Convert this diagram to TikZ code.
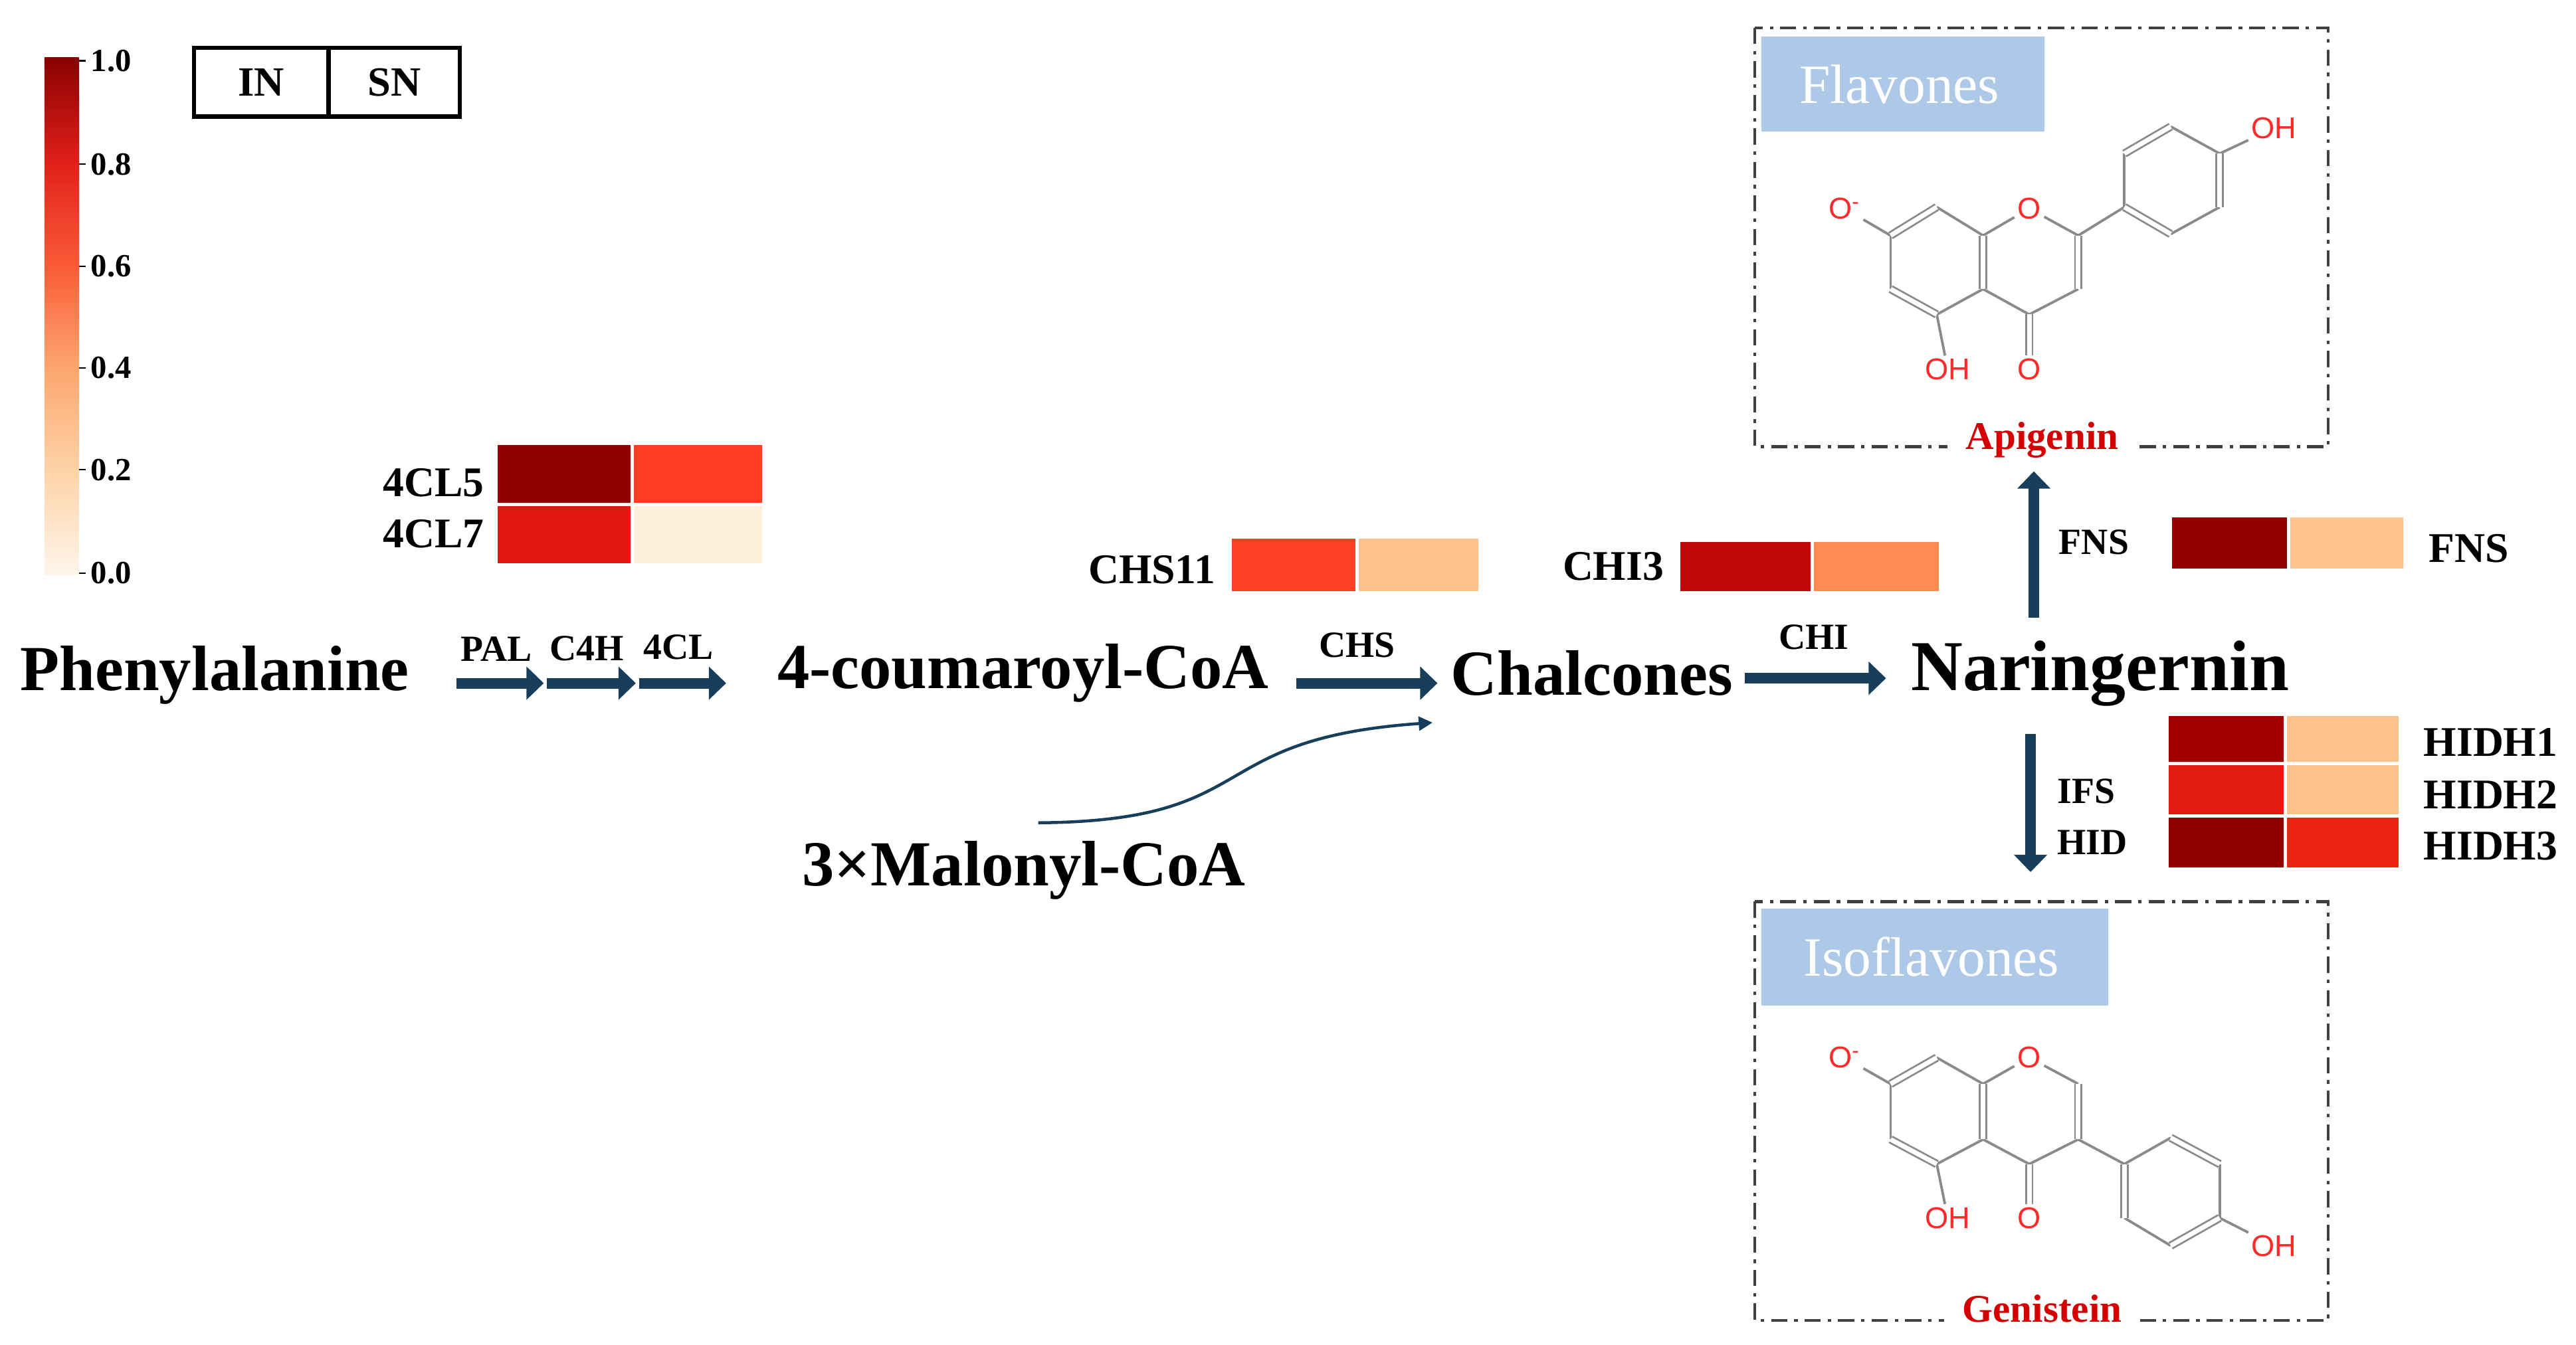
\documentclass[tikz,border=0pt]{standalone}
\usepackage{fontspec}
\setmainfont{Liberation Serif}
\newfontfamily\atomfont{Liberation Sans}
\usetikzlibrary{arrows.meta}
\definecolor{c0}{HTML}{FFF5EB}
\definecolor{c2}{HTML}{FDD3A8}
\definecolor{c4}{HTML}{FCA66E}
\definecolor{c6}{HTML}{FA5A38}
\definecolor{c8}{HTML}{E0201A}
\definecolor{c10}{HTML}{880000}
\definecolor{arrowblue}{HTML}{173F5C}
\definecolor{lblue}{HTML}{AEC8E8}
\definecolor{bond}{HTML}{8A8A8A}
\definecolor{atomred}{HTML}{FF2A2A}
\definecolor{namered}{HTML}{D40000}
\pgfdeclareverticalshading{cbar}{100bp}{color(0bp)=(c0); color(25bp)=(c0); color(35bp)=(c2); color(45bp)=(c4); color(55bp)=(c6); color(65bp)=(c8); color(75bp)=(c10); color(100bp)=(c10)}
\tikzset{
  main/.style={font=\bfseries\fontsize{27.8}{30}\selectfont, inner sep=0pt},
  enz/.style={font=\bfseries\fontsize{16}{19}\selectfont, inner sep=0pt},
  gene/.style={font=\bfseries\fontsize{18.3}{21}\selectfont, inner sep=0pt},
  tick/.style={font=\bfseries\fontsize{14}{17}\selectfont, inner sep=0pt, anchor=west},
  blk/.style={draw=arrowblue, line width=4.6pt, -{Triangle[width=14pt,length=7.5pt]}},
  thin/.style={draw=arrowblue, line width=1.3pt, -{Triangle[width=6pt,length=6pt]}},
  dbox/.style={draw=black!75, line width=1.2pt, dash pattern=on 7pt off 3pt on 1.5pt off 3pt},
  lab/.style={fill=lblue, text=white, font=\fontsize{24}{28}\selectfont, anchor=north west, inner sep=0pt},
  atom/.style={text=atomred, font=\atomfont\fontsize{13}{15}\selectfont, inner sep=1.2pt},
  bd/.style={draw=bond, line width=1.1pt},
  dbl/.style={draw=bond, double=white, double distance=2pt, line width=0.8pt},
  nm/.style={text=namered, font=\bfseries\fontsize{17}{20}\selectfont, fill=white, inner xsep=8pt, inner ysep=1pt},
}
\begin{document}
\begin{tikzpicture}[x=0.025cm, y=-0.025cm]
\useasboundingbox (0,0) rectangle (1568,818.6);
% colorbar
\shade[shading=cbar] (27,35) rectangle (48,350);
\foreach \v/\y in {1.0/37,0.8/100,0.6/162,0.4/224,0.2/286,0.0/349}{
  \draw[line width=0.6pt] (48,\y) -- (52,\y);
  \node[tick] (t\v) at (55,\y) {\v};
}
% IN/SN
\draw[line width=1.8pt] (118,29) rectangle (280,71);
\draw[line width=1.8pt] (200,29) -- (200,71);
\node[font=\bfseries\fontsize{18}{20}\selectfont] (in) at (159,50) {IN};
\node[font=\bfseries\fontsize{18}{20}\selectfont] (sn) at (240,50) {SN};
% heatmaps
\definecolor{h1}{HTML}{8E0000}\definecolor{h2}{HTML}{FF3D24}
\definecolor{h3}{HTML}{E2170F}\definecolor{h4}{HTML}{FEEEDC}
\fill[h1] (303,271) rectangle (384,306); \fill[h2] (386,271) rectangle (464,306);
\fill[h3] (303,308) rectangle (384,343); \fill[h4] (386,308) rectangle (464,343);
\node[gene, anchor=east] (g4cl5) at (295,294) {4CL5};
\node[gene, anchor=east] (g4cl7) at (295,325) {4CL7};
\fill[fill={rgb,255:red,255;green,63;blue,37}] (750,328) rectangle (825,360);
\fill[fill={rgb,255:red,253;green,193;blue,140}] (827,328) rectangle (900,360);
\node[gene, anchor=east] (gchs) at (740,347) {CHS11};
\fill[fill={rgb,255:red,192;green,7;blue,7}] (1023,330) rectangle (1102,360);
\fill[fill={rgb,255:red,255;green,138;blue,82}] (1104,330) rectangle (1180,360);
\node[gene, anchor=east] (gchi) at (1013,345) {CHI3};
\fill[fill={rgb,255:red,148;green,0;blue,0}] (1322,315) rectangle (1392,346);
\fill[fill={rgb,255:red,253;green,197;blue,141}] (1394,315) rectangle (1463,346);
\node[gene, anchor=west] (gfns) at (1478,334) {FNS};
\fill[fill={rgb,255:red,163;green,0;blue,0}] (1320,436) rectangle (1390,464);
\fill[fill={rgb,255:red,253;green,194;blue,139}] (1392,436) rectangle (1460,464);
\fill[fill={rgb,255:red,227;green,26;blue,15}] (1320,466) rectangle (1390,496);
\fill[fill={rgb,255:red,253;green,194;blue,139}] (1392,466) rectangle (1460,496);
\fill[fill={rgb,255:red,142;green,0;blue,0}] (1320,498) rectangle (1390,528);
\fill[fill={rgb,255:red,238;green,35;blue,20}] (1392,498) rectangle (1460,528);
\node[gene, anchor=west] (gh1) at (1475,452) {HIDH1};
\node[gene, anchor=west] (gh2) at (1475,484) {HIDH2};
\node[gene, anchor=west] (gh3) at (1475,515) {HIDH3};
% main compounds
\node[main, anchor=west] (phe) at (12,411) {Phenylalanine};
\node[main, anchor=west] (cou) at (473,410) {4-coumaroyl-CoA};
\node[main, anchor=west] (cha) at (883,410) {Chalcones};
\node[main, anchor=west, font=\bfseries\fontsize{31}{34}\selectfont] (nar) at (1163,410) {Naringernin};
\node[main, anchor=west] (mal) at (488,530) {3×Malonyl-CoA};
% block arrows
\coordinate (a0) at (278,416); \coordinate (a1) at (331,416);
\coordinate (b0) at (333,416); \coordinate (b1) at (387,416);
\coordinate (c0) at (389,416); \coordinate (c1) at (442,416);
\draw[blk] (a0) -- (a1); \draw[blk] (b0) -- (b1); \draw[blk] (c0) -- (c1);
\node[enz] (pal) at (302,395) {PAL};
\node[enz] (c4h) at (357,395) {C4H};
\node[enz] (fcl) at (413,394) {4CL};
\coordinate (chs0) at (789,416); \coordinate (chs1) at (875,416);
\draw[blk] (chs0) -- (chs1);
\node[enz] (chs) at (826,393) {CHS};
\coordinate (chi0) at (1062,413); \coordinate (chi1) at (1148,413);
\draw[blk] (chi0) -- (chi1);
\node[enz] (chi) at (1104,388) {CHI};
\coordinate (fns0) at (1238,376); \coordinate (fns1) at (1238,287);
\draw[blk] (fns0) -- (fns1);
\node[enz, anchor=west] (fns) at (1253,330) {FNS};
\coordinate (ifs0) at (1236,447); \coordinate (ifs1) at (1236,531);
\draw[blk] (ifs0) -- (ifs1);
\node[enz, anchor=west] (ifs) at (1252,482) {IFS};
\node[enz, anchor=west] (hid) at (1252,513) {HID};
% malonyl curve
\coordinate (m0) at (632,501); \coordinate (m1) at (872,440);
\draw[thin] (m0) .. controls (770,500) and (730,450) .. (m1);
% flavones box
\draw[dbox] (1068,17) rectangle (1417,272);
\node[lab, minimum width=172*0.025cm, minimum height=58*0.025cm] (fl) at (1072,22) {\hspace*{-3pt}Flavones};
\node[nm] (api) at (1243,268) {Apigenin};
% isoflavones box
\draw[dbox] (1068,549) rectangle (1417,804);
\node[lab, minimum width=211*0.025cm, minimum height=59*0.025cm] (ifl) at (1072,553) {\hspace*{-3pt}Isoflavones};
\node[nm] (gen) at (1243,797) {Genistein};
% apigenin molecule
\coordinate (A7) at (1150.8,143.4); \coordinate (A8) at (1178.9,126.1);
\coordinate (A8a) at (1207.1,143.4); \coordinate (A4a) at (1207.1,176.0);
\coordinate (A5) at (1178.9,191.5); \coordinate (A6) at (1150.8,176.0);
\coordinate (A2) at (1265.0,143.4); \coordinate (A3) at (1265.0,176.0);
\coordinate (A4) at (1235.2,191.5);
\coordinate (B1) at (1293.1,126.1); \coordinate (B2) at (1293.1,93.5);
\coordinate (B3) at (1321.3,77.1); \coordinate (B4) at (1351.1,93.5);
\coordinate (B5) at (1351.1,126.1); \coordinate (B6) at (1321.3,142.5);
\node[atom] (Aom) at (1122.7,127) {O\textsuperscript{-}};
\node[atom] (Aoh5) at (1185.6,225) {OH};
\node[atom] (Ao1) at (1235.2,127) {O};
\node[atom] (Ao4) at (1235.2,225) {O};
\node[atom] (Aoh) at (1384.2,78) {OH};
\draw[bd] (Aom) -- (A7); \draw[bd] (A8) -- (A8a); \draw[bd] (A4a) -- (A5);
\draw[bd] (A6) -- (A7); \draw[bd] (A5) -- (Aoh5); \draw[bd] (A8a) -- (Ao1);
\draw[bd] (Ao1) -- (A2); \draw[bd] (A3) -- (A4); \draw[bd] (A4) -- (A4a);
\draw[bd] (A2) -- (B1); \draw[bd] (B1) -- (B2); \draw[bd] (B3) -- (B4);
\draw[bd] (B5) -- (B6); \draw[bd] (B4) -- (Aoh);
\draw[dbl] (A7) -- (A8); \draw[dbl] (A8a) -- (A4a); \draw[dbl] (A5) -- (A6);
\draw[dbl] (A2) -- (A3); \draw[dbl] (A4) -- (Ao4);
\draw[dbl] (B2) -- (B3); \draw[dbl] (B4) -- (B5); \draw[dbl] (B6) -- (B1);
% genistein molecule
\coordinate (G7) at (1150.8,660.0); \coordinate (G8) at (1178.9,644.0);
\coordinate (G8a) at (1207.1,660.0); \coordinate (G4a) at (1207.1,693.8);
\coordinate (G5) at (1178.9,708.8); \coordinate (G6) at (1150.8,693.8);
\coordinate (G2) at (1265.0,660.0); \coordinate (G3) at (1265.0,693.8);
\coordinate (G4) at (1235.2,708.8);
\coordinate (H1) at (1293.1,708.8); \coordinate (H2) at (1321.3,692.8);
\coordinate (H3) at (1351.1,708.8); \coordinate (H4) at (1351.1,741.6);
\coordinate (H5) at (1321.3,758.5); \coordinate (H6) at (1293.1,741.6);
\node[atom] (Gom) at (1122.7,644) {O\textsuperscript{-}};
\node[atom] (Goh5) at (1185.6,741.6) {OH};
\node[atom] (Go1) at (1235.2,644) {O};
\node[atom] (Go4) at (1235.2,741.6) {O};
\node[atom] (Goh) at (1384.2,758.5) {OH};
\draw[bd] (Gom) -- (G7); \draw[bd] (G8) -- (G8a); \draw[bd] (G4a) -- (G5);
\draw[bd] (G6) -- (G7); \draw[bd] (G5) -- (Goh5); \draw[bd] (G8a) -- (Go1);
\draw[bd] (Go1) -- (G2); \draw[bd] (G3) -- (G4); \draw[bd] (G4) -- (G4a);
\draw[bd] (G3) -- (H1); \draw[bd] (H1) -- (H2); \draw[bd] (H3) -- (H4);
\draw[bd] (H5) -- (H6); \draw[bd] (H4) -- (Goh);
\draw[dbl] (G7) -- (G8); \draw[dbl] (G8a) -- (G4a); \draw[dbl] (G5) -- (G6);
\draw[dbl] (G2) -- (G3); \draw[dbl] (G4) -- (Go4);
\draw[dbl] (H2) -- (H3); \draw[dbl] (H4) -- (H5); \draw[dbl] (H6) -- (H1);
\end{tikzpicture}
\end{document}
